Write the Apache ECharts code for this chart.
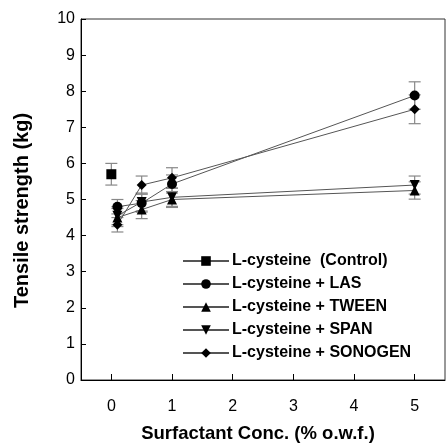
<!DOCTYPE html>
<html>
<head>
<meta charset="utf-8">
<script src="https://cdn.jsdelivr.net/npm/echarts@6/dist/echarts.min.js"></script>
<style>
  html, body { margin: 0; padding: 0; background: #fff; }
  #chart { width: 446px; height: 448px; }
</style>
</head>
<body>
<div id="chart"></div>
<script>
// surfactant concentration (% o.w.f.)
const controlConc = [0]
const conc = [0.1, 0.5, 1, 5]

// tensile strength (kg)
const controlVals = [5.7]
const lasVals = [4.8, 4.9, 5.43, 7.88]
const tweenVals = [4.5, 4.72, 5.0, 5.25]
const spanVals = [4.55, 4.93, 5.06, 5.4]
const sonogenVals = [4.3, 5.4, 5.6, 7.5]

// +/- error
const controlErr = [0.3]
const lasErr = [0.2, 0.25, 0.25, 0.38]
const tweenErr = [0.25, 0.25, 0.22, 0.24]
const spanErr = [0.25, 0.25, 0.25, 0.25]
const sonogenErr = [0.2, 0.25, 0.28, 0.4]

const xTicks = [0, 1, 2, 3, 4, 5]

const names = [
  'L-cysteine  (Control)',
  'L-cysteine + LAS',
  'L-cysteine + TWEEN',
  'L-cysteine + SPAN',
  'L-cysteine + SONOGEN'
]

const font = 'Arial'

function pairs(xs, ys) {
  return xs.map((x, i) => [x, ys[i]])
}

function errData(xs, ys, es) {
  return xs.map((x, i) => [x, ys[i] - es[i], ys[i] + es[i]])
}

const allErr = [].concat(
  errData(controlConc, controlVals, controlErr),
  errData(conc, lasVals, lasErr),
  errData(conc, tweenVals, tweenErr),
  errData(conc, spanVals, spanErr),
  errData(conc, sonogenVals, sonogenErr)
)

function lineSeries(name, data, symbol, rotate) {
  return {
    name: name,
    type: 'line',
    data: data,
    symbol: symbol,
    symbolSize: 10,
    symbolRotate: rotate || 0,
    showAllSymbol: true,
    lineStyle: { width: 1, color: '#555' },
    itemStyle: { color: '#000' },
    z: 3
  }
}

const chart = echarts.init(document.getElementById('chart'))
chart.setOption({
  animation: false,
  grid: {
    left: 81,
    right: 1,
    top: 19,
    bottom: 65,
    show: true,
    borderColor: '#333',
    borderWidth: 1
  },
  legend: {
    data: names,
    orient: 'vertical',
    left: 177,
    top: 248,
    itemWidth: 46,
    itemHeight: 12,
    itemGap: 7,
    textStyle: {
      fontFamily: font,
      fontWeight: 'bold',
      fontSize: 16,
      lineHeight: 16,
      color: '#000',
      padding: [0, 0, 0, -2]
    }
  },
  xAxis: {
    type: 'value',
    min: -0.5,
    max: 5.5,
    name: 'Surfactant Conc. (% o.w.f.)',
    nameLocation: 'middle',
    nameGap: 44,
    nameTextStyle: {
      fontFamily: font, fontWeight: 'bold', fontSize: 18.5, color: '#000',
      padding: [0, 10, 0, 0]
    },
    axisLine: { onZero: false, lineStyle: { color: '#000', width: 1 } },
    axisTick: { inside: true, length: 6, lineStyle: { color: '#000' }, customValues: xTicks },
    axisLabel: {
      fontFamily: font, fontSize: 16, color: '#000', margin: 19,
      customValues: xTicks
    },
    splitLine: { show: false }
  },
  yAxis: {
    type: 'value',
    min: 0,
    max: 10,
    interval: 1,
    name: 'Tensile strength (kg)',
    nameLocation: 'middle',
    nameGap: 49,
    nameRotate: 90,
    nameTextStyle: {
      fontFamily: font, fontWeight: 'bold', fontSize: 20, color: '#000',
      padding: [0, 22, 0, 0]
    },
    axisLine: { show: true, onZero: false, lineStyle: { color: '#000', width: 1 } },
    axisTick: { show: true, inside: true, length: 5, lineStyle: { color: '#000' } },
    axisLabel: {
      color: '#000',
      margin: 6,
      rotate: 0,
      formatter: function (v) { return '{n|' + v + '}' },
      rich: { n: { fontFamily: font, fontSize: 16, color: '#000' } }
    },
    splitLine: { show: false }
  },
  series: [
    {
      type: 'custom',
      data: allErr,
      z: 2,
      silent: true,
      renderItem: function (params, api) {
        const x = api.value(0)
        const lo = api.coord([x, api.value(1)])
        const hi = api.coord([x, api.value(2)])
        const w = 6
        const style = { stroke: '#888', lineWidth: 1.2 }
        return {
          type: 'group',
          children: [
            { type: 'line', shape: { x1: lo[0], y1: lo[1], x2: hi[0], y2: hi[1] }, style: style },
            { type: 'line', shape: { x1: lo[0] - w, y1: lo[1], x2: lo[0] + w, y2: lo[1] }, style: style },
            { type: 'line', shape: { x1: hi[0] - w, y1: hi[1], x2: hi[0] + w, y2: hi[1] }, style: style }
          ]
        }
      }
    },
    lineSeries(names[0], pairs(controlConc, controlVals), 'rect'),
    lineSeries(names[1], pairs(conc, lasVals), 'circle'),
    lineSeries(names[2], pairs(conc, tweenVals), 'triangle'),
    lineSeries(names[3], pairs(conc, spanVals), 'triangle', 180),
    lineSeries(names[4], pairs(conc, sonogenVals), 'diamond')
  ]
})
</script>
</body>
</html>
